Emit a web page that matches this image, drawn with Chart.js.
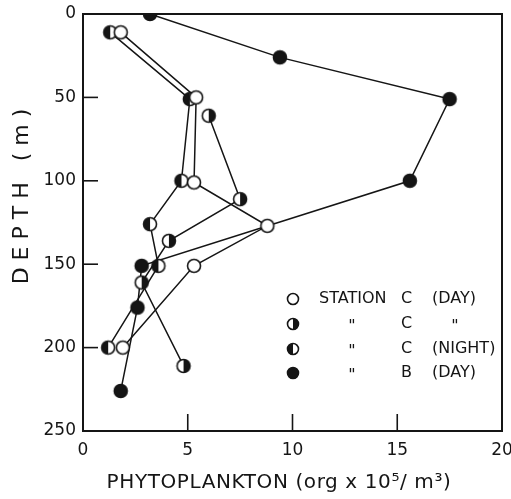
<!DOCTYPE html>
<html>
<head>
<meta charset="utf-8">
<script src="https://cdn.jsdelivr.net/npm/chart.js@4"></script>
<style>
  html, body { margin: 0; background: #fff; }
</style>
</head>
<body>
<canvas id="chart" width="511" height="499"></canvas>
<script>
// ── Data ─────────────────────────────────────────────────────────────────────

const dayC_x       = [1.8, 5.4, 5.3, 8.8, 5.3, 1.9];
const dayC_depth   = [11, 50, 101, 127, 151, 200];

const day2C_x      = [6.0, 7.5, 4.1, 2.8, 4.8];
const day2C_depth  = [61, 111, 136, 161, 211];

const nightC_x     = [1.3, 5.1, 4.7, 3.2, 3.6, 1.2];
const nightC_depth = [11, 51, 100, 126, 151, 200];

const dayB_x       = [3.2, 9.4, 17.5, 15.6, 2.8, 2.6, 1.8];
const dayB_depth   = [0, 26, 51, 100, 151, 176, 226];

const xTicks = [0, 5, 10, 15, 20];
const yTicks = [0, 50, 100, 150, 200, 250];

const INK = '#151515';
const FONT = "'DejaVu Sans', sans-serif";

// ── Marker glyphs ────────────────────────────────────────────────────────────

function marker(fill, r) {
  const c = document.createElement('canvas');
  c.width = 18; c.height = 18;
  const g = c.getContext('2d');
  g.beginPath(); g.arc(9, 9, r, 0, Math.PI * 2);
  g.fillStyle = '#fff'; g.fill();
  g.fillStyle = INK;
  if (fill === 'full') {
    g.beginPath(); g.arc(9, 9, r, 0, Math.PI * 2); g.fill();
  } else if (fill === 'left') {
    g.beginPath(); g.arc(9, 9, r, Math.PI / 2, Math.PI * 1.5); g.closePath(); g.fill();
  } else if (fill === 'right') {
    g.beginPath(); g.arc(9, 9, r, -Math.PI / 2, Math.PI / 2); g.closePath(); g.fill();
  }
  g.beginPath(); g.arc(9, 9, r, 0, Math.PI * 2);
  g.lineWidth = 1.6; g.strokeStyle = INK; g.stroke();
  return c;
}

const M_OPEN  = marker('open', 6.5);
const M_RIGHT = marker('right', 6.5);
const M_LEFT  = marker('left', 6.5);
const M_FULL  = marker('full', 6.5);

function pts(xs, ds) { return xs.map((x, i) => ({ x, y: ds[i] })); }

function series(label, xs, ds, style) {
  return {
    label,
    data: pts(xs, ds),
    showLine: true,
    borderColor: INK,
    borderWidth: 1.5,
    pointStyle: style,
    pointRadius: 6,
    pointHoverRadius: 6,
    tension: 0,
  };
}

// ── Legend / frame / titles ──────────────────────────────────────────────────

const legendRows = [
  { sym: marker('open', 5.5),  a: 'STATION', b: 'C', c: '(DAY)' },
  { sym: marker('right', 5.5), a: '"',       b: 'C', c: '"' },
  { sym: marker('left', 5.5),  a: '"',       b: 'C', c: '(NIGHT)' },
  { sym: marker('full', 5.5),  a: '"',       b: 'B', c: '(DAY)' },
];

const decor = {
  id: 'decor',
  afterDraw(chart) {
    const { ctx, chartArea: a, scales } = chart;
    ctx.save();
    ctx.strokeStyle = INK;
    ctx.lineWidth = 2;
    ctx.strokeRect(a.left, a.top, a.right - a.left, a.bottom - a.top);

    // inward tick marks
    ctx.lineWidth = 1.6;
    xTicks.slice(1, -1).forEach(v => {
      const px = scales.x.getPixelForValue(v);
      ctx.beginPath(); ctx.moveTo(px, a.bottom); ctx.lineTo(px, a.bottom - 17); ctx.stroke();
    });
    yTicks.slice(1, -1).forEach(v => {
      const py = scales.y.getPixelForValue(v);
      ctx.beginPath(); ctx.moveTo(a.left, py); ctx.lineTo(a.left + 15, py); ctx.stroke();
    });

    // legend
    ctx.fillStyle = INK;
    ctx.font = '16px ' + FONT;
    ctx.textBaseline = 'middle';
    const rowY = [299, 324, 349, 373];
    legendRows.forEach((r, i) => {
      const y = rowY[i];
      ctx.drawImage(r.sym, 293 - 9, y - 9);
      ctx.textAlign = r.a === '"' ? 'center' : 'left';
      ctx.fillText(r.a, r.a === '"' ? 352 : 319, r.a === '"' ? y + 3 : y);
      ctx.textAlign = 'left';
      ctx.fillText(r.b, 401, y);
      ctx.textAlign = r.c === '"' ? 'center' : 'left';
      ctx.fillText(r.c, r.c === '"' ? 455 : 432, r.c === '"' ? y + 3 : y);
    });

    // axis titles
    ctx.textAlign = 'center';
    ctx.textBaseline = 'alphabetic';
    ctx.font = '20px ' + FONT;
    ctx.letterSpacing = '0.6px';
    ctx.fillText('PHYTOPLANKTON (org x 10\u2075/ m\u00B3)', 279, 488);

    ctx.save();
    ctx.translate(28, 193);
    ctx.rotate(-Math.PI / 2);
    ctx.font = '22px ' + FONT;
    ctx.letterSpacing = '7px';
    ctx.fillText('DEPTH (m)', 0, 0);
    ctx.restore();

    ctx.restore();
  }
};

// ── Chart ────────────────────────────────────────────────────────────────────

new Chart(document.getElementById('chart'), {
  type: 'scatter',
  data: {
    datasets: [
      series('Station C (day)', dayC_x, dayC_depth, M_OPEN),
      series('Station C (day) 2', day2C_x, day2C_depth, M_RIGHT),
      series('Station C (night)', nightC_x, nightC_depth, M_LEFT),
      series('Station B (day)', dayB_x, dayB_depth, M_FULL),
    ],
  },
  options: {
    responsive: false,
    animation: false,
    layout: { padding: { top: 14, right: 9, left: 0, bottom: 0 } },
    plugins: { legend: { display: false }, tooltip: { enabled: false } },
    scales: {
      x: {
        type: 'linear', min: 0, max: 20,
        afterBuildTicks: s => { s.ticks = xTicks.map(v => ({ value: v })); },
        afterFit: s => { s.height = 68; s.paddingLeft = 0; s.paddingRight = 0; },
        grid: { display: false, drawTicks: false },
        border: { display: false },
        ticks: { color: INK, padding: 9, font: { family: FONT, size: 17 } },
      },
      y: {
        type: 'linear', min: 0, max: 250, reverse: true,
        afterBuildTicks: s => { s.ticks = yTicks.map(v => ({ value: v })); },
        afterFit: s => { s.width = 83; s.paddingTop = 0; s.paddingBottom = 0; },
        grid: { display: false, drawTicks: false },
        border: { display: false },
        ticks: { color: INK, padding: 7, font: { family: FONT, size: 17 } },
      },
    },
  },
  plugins: [decor],
});
</script>
</body>
</html>
